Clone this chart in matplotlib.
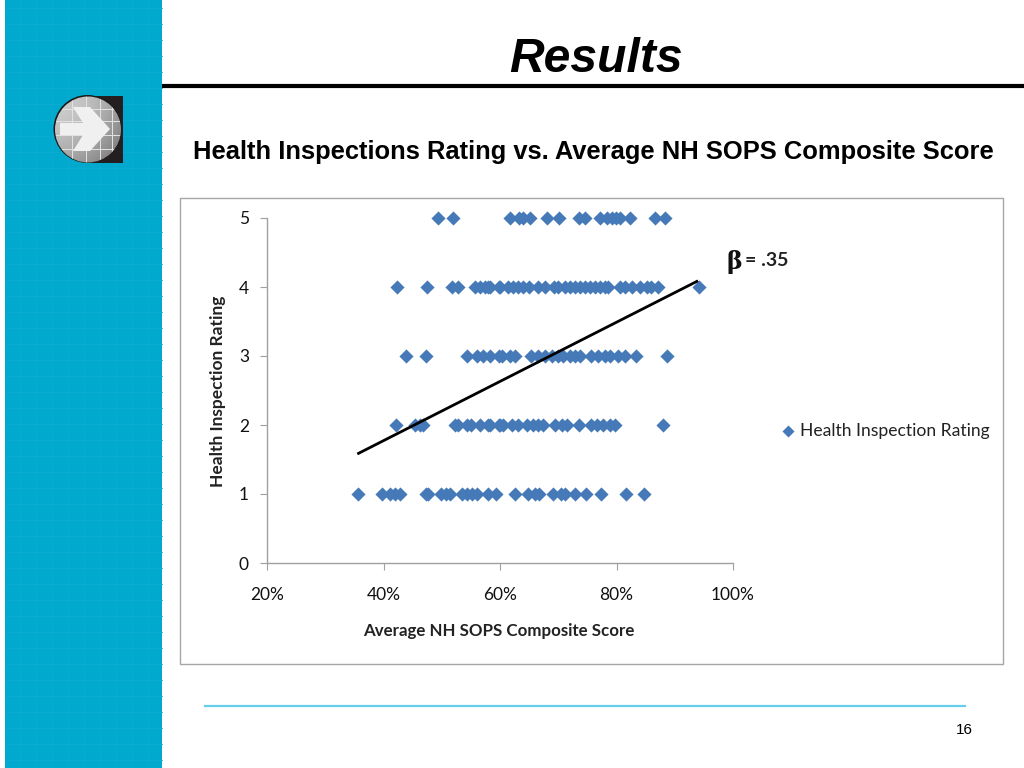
import numpy as np
import matplotlib
matplotlib.use("Agg")
import matplotlib.pyplot as plt
from matplotlib.patches import Rectangle, Circle, Polygon
from matplotlib.ticker import FuncFormatter

title = "Results"
subtitle = "Health Inspections Rating vs. Average NH SOPS Composite Score"
x_label = "Average NH SOPS Composite Score"
y_label = "Health Inspection Rating"
series_name = "Health Inspection Rating"
beta_symbol = "β"
beta_value = "= .35"
page_number = "16"

rating_5 = [49.3, 51.9, 61.8, 63.3, 63.9, 65.2, 68.0, 70.1, 73.6, 74.6, 77.2, 78.4, 79.2, 79.9, 80.6, 82.3, 86.6, 88.3]
rating_4 = [42.4, 47.5, 51.7, 52.8, 55.7, 56.6, 57.4, 58.0, 58.3, 59.9, 60.0, 61.4, 62.3, 63.1, 64.0, 64.9, 66.6, 67.7,
            69.2, 70.0, 71.2, 72.0, 72.9, 73.7, 74.6, 75.5, 76.3, 77.2, 78.0, 78.6, 80.6, 81.5, 82.6, 84.0, 85.2, 86.0, 87.2, 94.2]
rating_3 = [43.9, 47.3, 54.3, 56.0, 57.1, 58.3, 59.9, 60.3, 61.7, 62.6, 65.4, 66.6, 67.7, 68.9, 70.0, 70.9, 72.0, 72.9,
            73.7, 75.7, 76.9, 78.0, 78.9, 80.3, 81.5, 83.3, 88.6]
rating_2 = [42.1, 45.4, 46.3, 46.8, 52.3, 52.8, 54.3, 55.1, 56.6, 58.0, 58.3, 59.9, 60.0, 60.6, 62.0, 63.1, 64.6, 65.7,
            66.6, 67.4, 69.4, 70.6, 71.5, 73.6, 75.7, 76.6, 77.7, 78.9, 79.7, 87.9]
rating_1 = [35.7, 39.7, 41.1, 42.0, 42.8, 47.3, 47.6, 49.9, 50.7, 51.4, 53.5, 54.3, 55.2, 56.0, 57.9, 59.3, 62.6, 64.8,
            66.0, 66.7, 69.1, 70.5, 71.2, 72.9, 74.8, 77.3, 81.6, 84.7]
ratings = [1, 2, 3, 4, 5]
scores = [rating_1, rating_2, rating_3, rating_4, rating_5]
trend_x = [35.5, 94.0]
trend_y = [1.58, 4.09]
x_ticks = [20, 40, 60, 80, 100]
y_ticks = [0, 1, 2, 3, 4, 5]

W, H = 1024, 768
fig = plt.figure(figsize=(W / 100, H / 100), dpi=100, facecolor="white")

# slide furniture, in pixel coordinates
bg = fig.add_axes([0, 0, 1, 1], zorder=0)
bg.set_xlim(0, W)
bg.set_ylim(H, 0)
bg.axis("off")
blue = "#02A9CE"
bg.add_patch(Rectangle((5, 0), 157, H, fc=blue, ec="none", zorder=0.5))
for gx in np.arange(20, 162, 16):
    bg.plot([gx, gx], [0, H], color="#0CACD0", lw=0.6, zorder=0.6)
for gy in np.arange(8, H, 16):
    bg.plot([5, 162], [gy, gy], color="#0CACD0", lw=0.6, zorder=0.6)
bg.plot([162, W], [85.5, 85.5], color="black", lw=3, solid_capstyle="butt")
bg.add_patch(Rectangle((180, 198), 823, 466, fc="white", ec="#A6A6A6", lw=1))
bg.plot([205, 965], [705.5, 705.5], color="#66CDEB", lw=1.6)

# logo
bg.add_patch(Rectangle((87, 96), 35.5, 67, fc="#231F20", ec="none", zorder=1.5))
bg.add_patch(Circle((87.5, 129), 34, fc="#1A1A1A", ec="none", zorder=2))
n = 68
gx_, gy_ = np.meshgrid(np.arange(n), np.arange(n))
shade = 0.80 - 0.22 * (gx_ / n) ** 2 - 0.18 * (gy_ / n) ** 2
for c in [18, 32, 46, 58]:
    shade[:, c] = 0.88
for r in [14, 26, 40, 54]:
    shade[r, :] = 0.88
im = bg.imshow(shade, extent=(54, 122, 163, 95), cmap="gray", vmin=0, vmax=1, zorder=3, aspect="auto",
               interpolation="bilinear")
im.set_clip_path(Circle((88, 129.5), 33, transform=bg.transData))
bg.set_xlim(0, W)
bg.set_ylim(H, 0)
bg.add_patch(Polygon([(60, 123), (83, 123), (73, 107), (90, 107), (110, 129), (90, 151),
                      (73, 151), (83, 135), (60, 135)], closed=True, fc="#F0F0F0", ec="none", zorder=5))

bg.text(596, 59, title, ha="center", va="center", family="Liberation Sans",
        weight="bold", style="italic", fontsize=34.6, color="black")
bg.text(593, 151.5, subtitle, ha="center", va="center", family="Liberation Sans",
        weight="bold", fontsize=18.4, color="black")
bg.text(964.5, 729.5, page_number, ha="center", va="center", family="Liberation Sans", fontsize=11, color="black")

# chart
ax = fig.add_axes([267 / W, (H - 563) / H, 466 / W, 345 / H], zorder=2)
ax.patch.set_alpha(0)
all_x = [v for s in scores for v in s]
all_y = [r for r, s in zip(ratings, scores) for _ in s]
ax.scatter(all_x, all_y, marker="D", s=52, color="#4579B8", linewidths=0, label=series_name, clip_on=False, zorder=3)
ax.plot(trend_x, trend_y, color="black", lw=2, zorder=4, solid_capstyle="butt")
ax.set_xlim(20, 100)
ax.set_ylim(0, 5)
ax.set_xticks(x_ticks)
ax.set_yticks(y_ticks)
ax.xaxis.set_major_formatter(FuncFormatter(lambda v, _: f"{v:.0f}%"))
for s in ("top", "right"):
    ax.spines[s].set_visible(False)
for s in ("left", "bottom"):
    ax.spines[s].set_color("#A0A0A0")
    ax.spines[s].set_linewidth(1)
ax.tick_params(axis="both", length=5, width=0.8, color="#A0A0A0", labelsize=12.5, labelcolor="#111111")
ax.tick_params(axis="x", pad=12)
ax.tick_params(axis="y", pad=8)
for lab in ax.get_xticklabels() + ax.get_yticklabels():
    lab.set_family("Lato")
ax.set_xlabel(x_label, family="Lato", weight="bold", fontsize=12.2, color="#222222")
ax.set_ylabel(y_label, family="Lato", weight="bold", fontsize=12.5, color="#222222")
ax.xaxis.set_label_coords((499 - 267) / 466, -(623 - 563) / 345)
ax.yaxis.set_label_coords((226 - 267) / 466, (563 - 391) / 345)
leg = ax.legend(loc="center left", bbox_to_anchor=(770 / W, (H - 431) / H), bbox_transform=fig.transFigure,
                frameon=False, prop={"family": "Lato", "size": 12.6}, handletextpad=-0.3, markerscale=0.85,
                borderpad=0, borderaxespad=0)
for t in leg.get_texts():
    t.set_color("#222222")
bg.text(727, 262, beta_symbol, ha="left", va="center", family="DejaVu Serif", weight="bold", fontsize=17, color="#111111")
bg.text(745, 261, beta_value, ha="left", va="center", family="Lato", weight="bold", fontsize=14, color="#222222")

fig.savefig("out.png", dpi=100)
